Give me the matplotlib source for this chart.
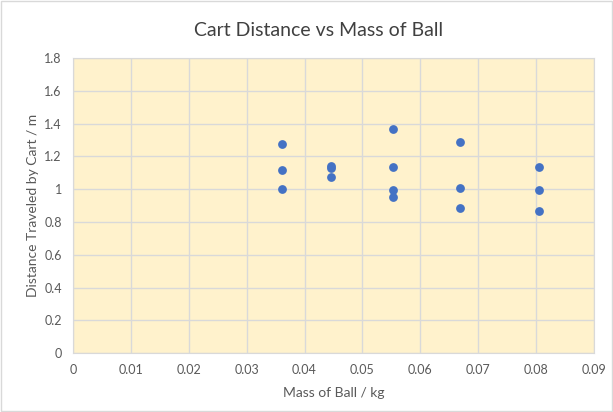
import matplotlib.pyplot as plt
from matplotlib.patches import Rectangle

plt.rcParams['font.family'] = ['Lato', 'DejaVu Sans']

# ball mass (kg) and distance the cart travelled (m), three trials per mass
mass = [0.0361, 0.0361, 0.0361,
        0.0446, 0.0446, 0.0446,
        0.0553, 0.0553, 0.0553, 0.0553,
        0.0669, 0.0669, 0.0669,
        0.0805, 0.0805, 0.0805]
distance = [1.275, 1.117, 1.0,
            1.14, 1.13, 1.075,
            1.365, 1.137, 0.996, 0.953,
            1.29, 1.005, 0.885,
            1.137, 0.995, 0.866]

x_ticks = [0, 0.01, 0.02, 0.03, 0.04, 0.05, 0.06, 0.07, 0.08, 0.09]
y_ticks = [0, 0.2, 0.4, 0.6, 0.8, 1.0, 1.2, 1.4, 1.6, 1.8]

fig = plt.figure(figsize=(6.13, 4.12), dpi=100)
fig.patches.append(Rectangle((0.002, 0.002), 0.996, 0.996, transform=fig.transFigure,
                             fill=False, edgecolor='#D9D9D9', linewidth=1))
ax = fig.add_axes([0.119, 0.143, 0.850, 0.716])
ax.set_facecolor('#FFF2CC')

ax.scatter(mass, distance, s=40, color='#4472C4', zorder=3, linewidths=0)

ax.set_xlim(0, 0.09)
ax.set_ylim(0, 1.8)
ax.set_xticks(x_ticks)
ax.set_xticklabels(['0' if v == 0 else f'{v:g}' for v in x_ticks])
ax.set_yticks(y_ticks)
ax.set_yticklabels(['0' if v == 0 else ('1' if v == 1 else f'{v:g}') for v in y_ticks])
ax.grid(True, color='#D9D9D9', linewidth=1)
ax.set_axisbelow(True)
for s in ax.spines.values():
    s.set_color('#D9D9D9')
ax.tick_params(length=0, labelsize=9, colors='#595959', pad=8)

ax.set_xlabel('Mass of Ball / kg', fontsize=10, color='#595959', labelpad=8)
ax.set_ylabel('Distance Traveled by Cart / m', fontsize=10, color='#595959', labelpad=4)
fig.text(0.52, 0.925, 'Cart Distance vs Mass of Ball', ha='center', va='center',
         fontsize=14, color='#404040')

fig.savefig('out.png', dpi=100)
